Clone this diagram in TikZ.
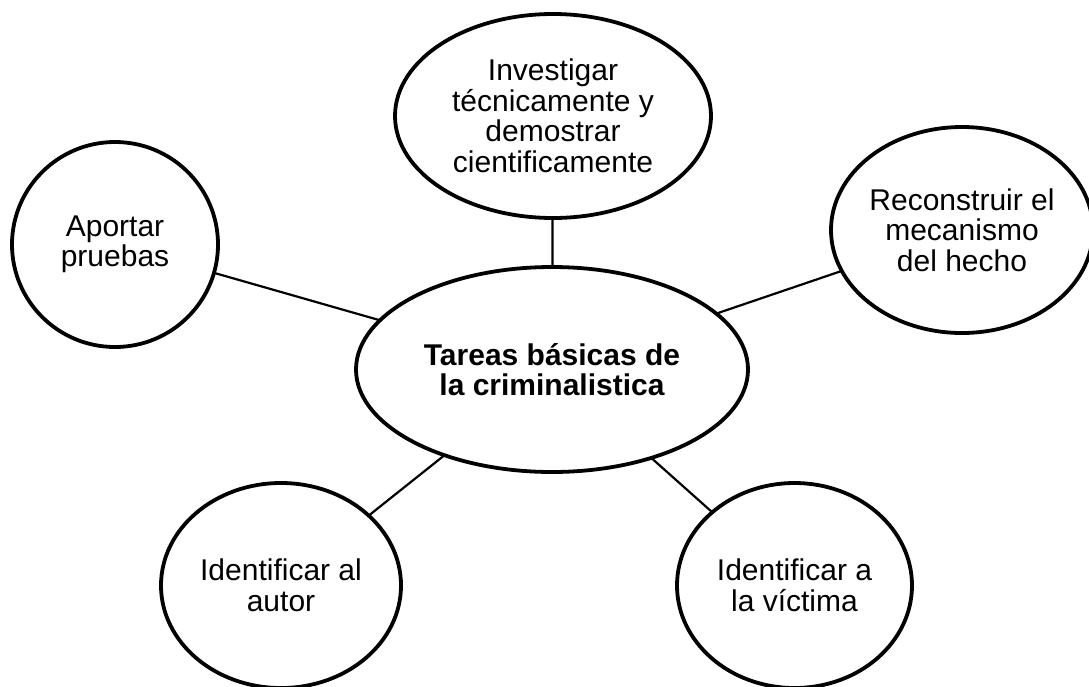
\documentclass[tikz,border=0pt]{standalone}
\usepackage{fontspec}
\setmainfont{Liberation Sans}
\usetikzlibrary{shapes.geometric}
\tikzset{
  bubble/.style={draw=black, line width=3.8pt, ellipse, fill=white, inner sep=0pt, outer sep=0pt,
    align=center, font=\fontsize{30}{30.5}\selectfont},
  centre/.style={bubble, font=\fontsize{30}{30.5}\selectfont\bfseries},
  link/.style={draw=black, line width=2.2pt}
}
\begin{document}
\begin{tikzpicture}[x=1pt,y=-1pt]
\clip (0,0) rectangle (1089,686);
\fill[white] (0,0) rectangle (1089,686);
\node[centre, minimum width=392pt, minimum height=205pt] (c) at (552,369.5) {Tareas básicas de\\la criminalistica};
\node[bubble, minimum width=316pt, minimum height=204pt] (t) at (553,116) {Investigar\\técnicamente y\\demostrar\\cientificamente};
\node[bubble, minimum width=206pt, minimum height=205pt] (l) at (115,244.5) {Aportar\\pruebas};
\node[bubble, minimum width=262pt, minimum height=206pt] (r) at (962,230) {Reconstruir el\\mecanismo\\del hecho};
\node[bubble, minimum width=240pt, minimum height=205pt] (bl) at (281,585.5) {Identificar al\\autor};
\node[bubble, minimum width=235pt, minimum height=205pt] (br) at (794.5,585.5) {Identificar a\\la víctima};
\draw[link] (c) -- (t);
\draw[link] (c) -- (l);
\draw[link] (c) -- (r);
\draw[link] (c) -- (bl);
\draw[link] (c) -- (br);
\end{tikzpicture}
\end{document}
